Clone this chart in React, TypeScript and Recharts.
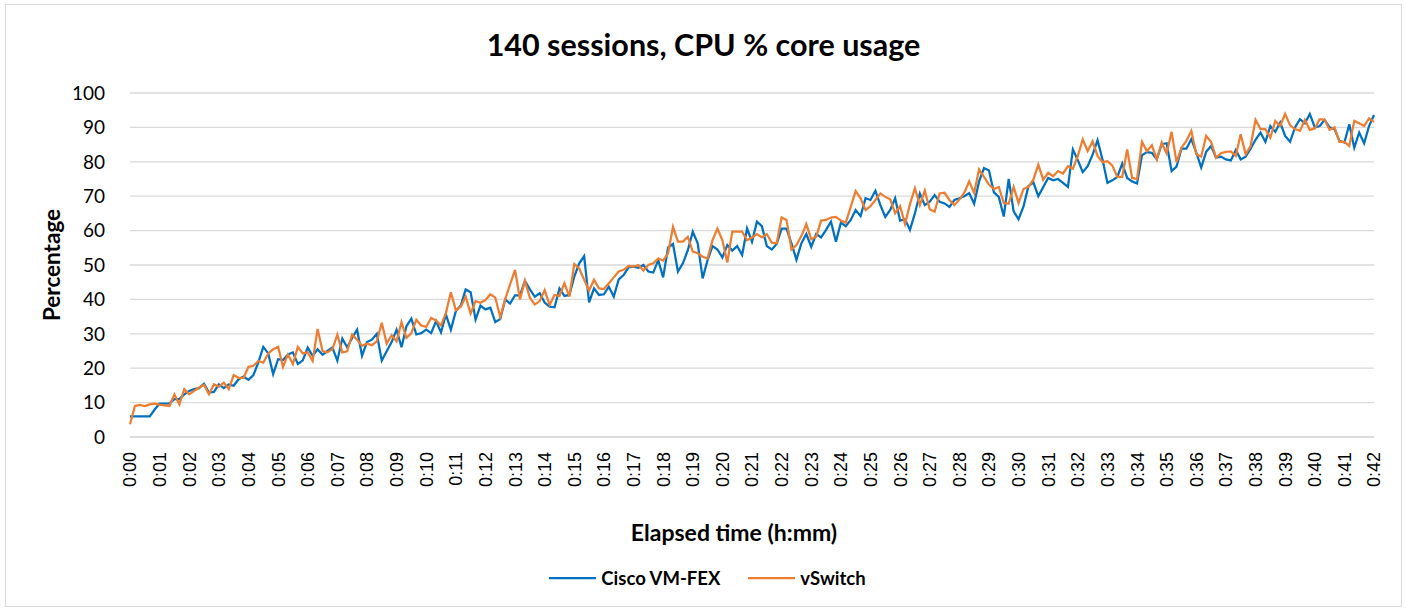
import React from "react";
import {
  LineChart,
  Line,
  XAxis,
  YAxis,
  CartesianGrid,
  Legend,
} from "recharts";

// one sample every 10 seconds, 0:00 .. 0:42
const ciscoVmFex = [
  6, 6, 6, 6, 6, 8, 9.7, 9.7, 9.8, 11,
  11, 12.4, 13.4, 13.9, 14.2, 15.5, 12.9, 13.1, 15.3, 14.2,
  15.3, 14.9, 16.8, 17.6, 16.6, 18, 21.7, 26.2, 24.3, 18.3,
  22.6, 22.4, 24, 24.6, 21.2, 22.3, 26, 23.6, 25.5, 23.9,
  25, 26, 22.2, 28.6, 26.1, 28.8, 31.2, 23.6, 27.6, 28.3,
  30, 22.2, 24.9, 27.6, 31.2, 26.1, 32.2, 34.4, 29.8, 30.2,
  31.2, 30.2, 33.7, 30.4, 35.6, 31.2, 36.6, 38.2, 42.9, 42.1,
  34.1, 38.2, 37.1, 37.6, 33.4, 34.3, 40, 38.8, 41.2, 41.2,
  45.4, 42.9, 40.8, 41.8, 39.1, 37.9, 37.7, 43.2, 41, 41.3,
  46.6, 50.5, 52.6, 39.1, 43.2, 41.3, 41.5, 43.7, 40.8, 45.8,
  47.1, 49.3, 49.5, 49.2, 50, 48.1, 47.8, 51.4, 46.4, 55.1,
  56.1, 48.1, 50.5, 54.3, 59.7, 56.3, 46.1, 51.4, 55.5, 54.5,
  52.2, 55.8, 54.2, 55.5, 52.9, 60.6, 56.8, 62.6, 61.3, 55.5,
  54.5, 56.1, 60.6, 60.6, 56.3, 51.5, 56.3, 59, 55.3, 59,
  58, 60.2, 62.6, 56.8, 62.3, 61.3, 63.1, 66, 64.2, 69.4,
  68.9, 71.6, 67.4, 64, 66, 69.4, 62.9, 63.3, 60.2, 65,
  70.8, 67.4, 68.4, 70.3, 68.4, 67.9, 66.9, 68.9, 69.4, 70,
  70.9, 67.8, 74.3, 78.2, 77.5, 71.1, 69.8, 64.1, 75, 65.6,
  63.3, 67, 72.9, 74, 70, 72.7, 75.3, 74.6, 75, 73.9,
  72.7, 83.6, 80.5, 77, 78.7, 82.1, 86.3, 80.7, 73.9, 74.6,
  75.6, 79.5, 75.3, 74.3, 73.7, 81.9, 82.8, 82.6, 80.7, 85.1,
  85.4, 77.3, 78.6, 83.8, 83.8, 86.6, 82.7, 78.3, 82.9, 84.6,
  81.2, 81.5, 80.7, 80.4, 83.4, 80.7, 81.5, 83.8, 86.4, 88.5,
  85.8, 90.4, 88.7, 91.4, 87.5, 85.8, 90, 92.4, 91.2, 93.9,
  90, 90.4, 92.2, 90, 89.5, 86.1, 85.6, 90.9, 84.1, 88.5,
  85.4, 90.4, 93.6,
];

const vSwitch = [
  3.7, 9, 9.3, 9, 9.5, 9.7, 9.4, 9.2, 9, 12.4,
  9.5, 13.9, 12.4, 13.4, 14.4, 15.1, 12.4, 15.3, 14.6, 15.8,
  13.9, 18, 17.2, 17.2, 20.4, 20.7, 22.1, 21.6, 24.3, 25.5,
  26.2, 20.4, 24, 21.2, 26.2, 24.3, 24.6, 22.1, 31.4, 25,
  24.6, 25.5, 29.8, 24.6, 24.9, 29.8, 28.3, 26.5, 27.1, 26.7,
  27.8, 33.2, 27.1, 29.6, 27.8, 33.4, 28.8, 30.2, 34.1, 32.4,
  32, 34.6, 33.9, 32.4, 36.1, 42.1, 36.9, 37.9, 40.8, 35.9,
  39.5, 39, 39.8, 41.5, 40.5, 34.9, 40, 44.4, 48.6, 40,
  45.4, 40.5, 38.5, 39.5, 42.7, 38.4, 41.3, 41, 44.7, 40.8,
  50.3, 49, 45.7, 42.6, 45.7, 43.2, 43, 44.7, 46.4, 48.1,
  48.6, 49.7, 49.5, 50, 48.4, 50, 50.5, 51.9, 51.3, 53.4,
  61.1, 56.8, 56.8, 58.2, 53.9, 53.4, 52.4, 51.9, 57.2, 60.6,
  57.2, 50.7, 59.7, 59.7, 59.7, 57.2, 58, 59, 58, 59,
  56.5, 56.3, 63.8, 63.1, 54.5, 55.8, 58.4, 61.9, 57.5, 58.2,
  62.9, 63.1, 63.8, 64, 62.9, 62.3, 66.9, 71.5, 69.4, 66,
  67.1, 68.9, 70.8, 69.8, 69.1, 65, 67.1, 61.9, 67.7, 72.3,
  67.4, 71.6, 66.2, 65.5, 70.8, 71, 68.9, 67.4, 69, 71,
  74.3, 70.9, 77.8, 75.6, 73.4, 72.1, 72.7, 68, 67.8, 72.7,
  68, 72.1, 72.7, 74.8, 79.2, 74.8, 76.8, 75.8, 77.3, 76.6,
  78.7, 78, 81.7, 86.5, 83.1, 86, 81.7, 79.9, 80.2, 78.9,
  75.6, 75.6, 83.6, 75.3, 75, 85.8, 83.1, 84.8, 80.7, 85.6,
  82.4, 88.7, 79.9, 84.1, 86.1, 89, 82.2, 81.5, 87.5, 85.8,
  81.2, 82.5, 82.9, 83, 81.7, 88, 82.2, 84.6, 92.2, 89.5,
  89.5, 87, 91.9, 90.4, 93.9, 90.6, 89.5, 89, 92.2, 89.3,
  89.7, 92.4, 92.2, 89.3, 90, 85.8, 85.8, 84.6, 91.9, 91.2,
  90.4, 92.6, 91.6,
];

const minuteLabels = [
  "0:00", "0:01", "0:02", "0:03", "0:04", "0:05", "0:06", "0:07", "0:08", "0:09",
  "0:10", "0:11", "0:12", "0:13", "0:14", "0:15", "0:16", "0:17", "0:18", "0:19",
  "0:20", "0:21", "0:22", "0:23", "0:24", "0:25", "0:26", "0:27", "0:28", "0:29",
  "0:30", "0:31", "0:32", "0:33", "0:34", "0:35", "0:36", "0:37", "0:38", "0:39",
  "0:40", "0:41", "0:42",
];

const yTicks = [0, 10, 20, 30, 40, 50, 60, 70, 80, 90, 100];

const SAMPLES_PER_MIN = 6;
const BLUE = "#0070C0";
const ORANGE = "#ED7D31";
const W = 1397;
const H = 603;

const data = ciscoVmFex.map((v, i) => ({ t: i, cisco: v, vswitch: vSwitch[i] }));
const xTicks = minuteLabels.map((_, m) => m * SAMPLES_PER_MIN);

const RotatedTick = (props: any) => {
  const { x, y, payload } = props;
  const label = minuteLabels[Math.round(payload.value / SAMPLES_PER_MIN)];
  return (
    <text
      transform={`translate(${x},${y}) rotate(-90)`}
      textAnchor="end"
      dy="0.36em"
      fontFamily="'Liberation Sans', Arial, sans-serif"
      fontSize={18}
      fill="#000"
    >
      {label}
    </text>
  );
};

const LegendContent = () => {
  const items = [
    { name: "Cisco VM-FEX", color: BLUE },
    { name: "vSwitch", color: ORANGE },
  ];
  return (
    <div style={{ display: "flex", justifyContent: "center", paddingLeft: 8 }}>
      {items.map((it, k) => (
        <div
          key={it.name}
          style={{ display: "flex", alignItems: "center", marginLeft: k ? 28 : 0 }}
        >
          <svg width={47} height={10} style={{ marginRight: 5 }}>
            <line x1={0} y1={5} x2={47} y2={5} stroke={it.color} strokeWidth={2.25} />
          </svg>
          <span style={{ fontFamily: "Lato, sans-serif", fontWeight: 700, fontSize: 18.5 }}>
            {it.name}
          </span>
        </div>
      ))}
    </div>
  );
};

export default function App() {
  return (
    <div style={{ position: "absolute", left: 5, top: 4, width: W, height: H }}>
      <div
        style={{
          position: "absolute",
          inset: 0,
          border: "1px solid #d9d9d9",
          boxSizing: "border-box",
          background: "#fff",
        }}
      />
      <div
        style={{
          position: "absolute",
          left: 0,
          top: 22,
          width: W,
          textAlign: "center",
          fontFamily: "Lato, sans-serif",
          fontWeight: 700,
          fontSize: 30.5,
          lineHeight: "36px",
        }}
      >
        140 sessions, CPU % core usage
      </div>
      <div style={{ position: "absolute", left: 0, top: 0 }}>
        <LineChart
          width={W}
          height={H}
          data={data}
          margin={{ top: 89, right: 28, left: 0, bottom: 0 }}
        >
          <CartesianGrid vertical={false} stroke="#d9d9d9" strokeWidth={1.3} />
          <XAxis
            dataKey="t"
            type="number"
            domain={[0, 252]}
            ticks={xTicks}
            interval={0}
            height={170}
            tick={<RotatedTick />}
            tickLine={false}
            tickSize={0}
            tickMargin={15}
            axisLine={{ stroke: "#d9d9d9", strokeWidth: 1.3 }}
            label={{
              value: "Elapsed time (h:mm)",
              position: "insideBottom",
              offset: 66,
              dx: -18,
              style: { fontFamily: "Lato, sans-serif", fontWeight: 700, fontSize: 23, fill: "#000" },
            }}
          />
          <YAxis
            domain={[0, 100]}
            ticks={yTicks}
            interval={0}
            width={125}
            axisLine={false}
            tickLine={false}
            tickSize={0}
            tickMargin={25}
            tick={{ fontFamily: "Lato, sans-serif", fontSize: 19, fill: "#000" }}
            label={{
              value: "Percentage",
              angle: -90,
              position: "center",
              dx: -15,
              style: { fontFamily: "Lato, sans-serif", fontWeight: 700, fontSize: 22.5, fill: "#000" },
            }}
          />
          <Legend
            layout="horizontal"
            verticalAlign="middle"
            align="center"
            wrapperStyle={{ top: 563, left: 0, width: W }}
            content={<LegendContent />}
          />
          <Line
            type="linear"
            dataKey="cisco"
            name="Cisco VM-FEX"
            stroke={BLUE}
            strokeWidth={2.25}
            dot={false}
            isAnimationActive={false}
          />
          <Line
            type="linear"
            dataKey="vswitch"
            name="vSwitch"
            stroke={ORANGE}
            strokeWidth={2.25}
            dot={false}
            isAnimationActive={false}
          />
        </LineChart>
      </div>
    </div>
  );
}
